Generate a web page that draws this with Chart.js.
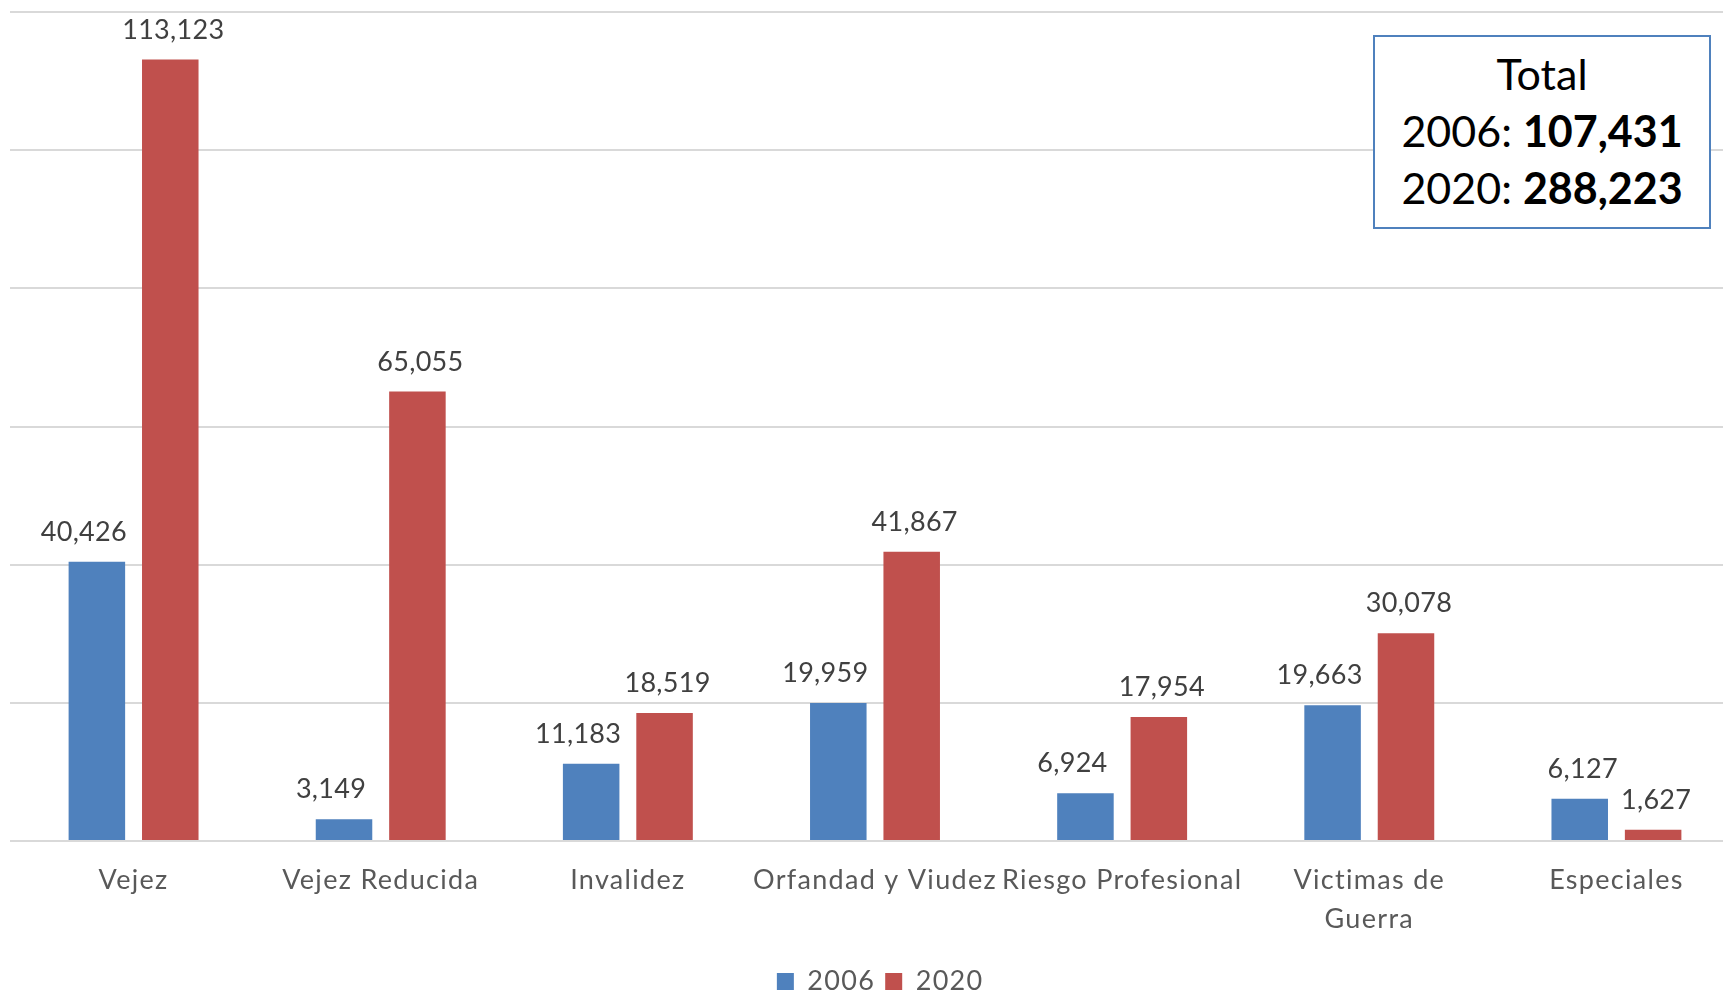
<!DOCTYPE html>
<html>
<head>
<meta charset="utf-8">
<script src="https://cdn.jsdelivr.net/npm/chart.js@4"></script>
<style>
  body { margin: 0; background: #fff; overflow: hidden; }
  #wrap { position: relative; width: 1740px; height: 995px; }
  #totalBox {
    position: absolute; left: 1373px; top: 35px; width: 334px; height: 182px;
    border: 2px solid #4f81bd; background: #fff;
    font-family: Lato, sans-serif; font-size: 43px; color: #000;
    text-align: center; line-height: 57px; padding-top: 8px; box-sizing: content-box;
  }
  #totalBox div { height: 57px; }
</style>
</head>
<body>
<div id="wrap">
  <canvas id="grafico"></canvas>
  <div id="totalBox"></div>
</div>
<script>
// datos
const categorias = ["Vejez", "Vejez Reducida", "Invalidez", "Orfandad y Viudez", "Riesgo Profesional", ["Victimas de", "Guerra"], "Especiales"];
const anios = ["2006", "2020"];
const valores2006 = [40426, 3149, 11183, 19959, 6924, 19663, 6127];
const valores2020 = [113123, 65055, 18519, 41867, 17954, 30078, 1627];
const totales = [107431, 288223];

const fuente = "Lato, sans-serif";
const fmt = v => v.toLocaleString("en-US");

// caja de totales
const caja = document.getElementById("totalBox");
caja.innerHTML = '<div>Total</div>' +
  anios.map((a, i) => `<div>${a}: <b>${fmt(totales[i])}</b></div>`).join("");

// espaciado de letras parecido al de Excel
const espaciado = {
  id: "espaciado",
  beforeDraw(chart) { chart.ctx.letterSpacing = "1.3px"; },
  afterDraw(chart) { chart.ctx.letterSpacing = "0px"; }
};

// etiquetas encima de cada barra (en el original las azules van corridas a la izquierda)
const etiquetas = {
  id: "etiquetas",
  afterDatasetsDraw(chart, args, opts) {
    const ctx = chart.ctx;
    ctx.save();
    ctx.letterSpacing = "0.3px";
    ctx.font = "27px " + fuente;
    ctx.fillStyle = "#404040";
    ctx.textAlign = "center";
    ctx.textBaseline = "alphabetic";
    chart.data.datasets.forEach((ds, i) => {
      chart.getDatasetMeta(i).data.forEach((bar, j) => {
        let dx = opts.dx[i];
        if (i === 0 && j === ds.data.length - 1) dx = 3;
        ctx.fillText(fmt(ds.data[j]), bar.x + dx, bar.y - 21);
      });
    });
    ctx.restore();
  }
};

const ctx = document.getElementById("grafico").getContext("2d");
const grafico = new Chart(ctx, {
  type: "bar",
  data: {
    labels: categorias,
    datasets: [
      { label: anios[0], data: valores2006, backgroundColor: "#4f81bd" },
      { label: anios[1], data: valores2020, backgroundColor: "#c0504d" }
    ]
  },
  options: {
    responsive: true,
    maintainAspectRatio: false,
    animation: false,
    layout: { padding: { top: 12, left: 10, right: 0, bottom: -10 } },
    datasets: { bar: { categoryPercentage: 0.594, barPercentage: 0.77 } },
    scales: {
      x: {
        grid: { display: false, drawTicks: false },
        border: { display: false },
        ticks: { color: "#595959", font: { family: fuente, size: 27, lineHeight: 1.44 }, padding: 20, maxRotation: 0, autoSkip: false },
        afterFit: s => { s.height = 117; }
      },
      y: {
        min: 0, max: 120000,
        ticks: { display: false, stepSize: 20000 },
        grid: { color: "#d9d9d9", lineWidth: 2, drawTicks: false },
        border: { display: false },
        afterFit: s => { s.width = 0; }
      }
    },
    plugins: {
      legend: {
        position: "bottom",
        labels: { color: "#595959", font: { family: fuente, size: 27 }, boxWidth: 17, boxHeight: 17, padding: 10 }
      },
      tooltip: { enabled: false },
      etiquetas: { dx: [-13, 3] }
    }
  },
  plugins: [espaciado, etiquetas]
});
</script>
</body>
</html>
